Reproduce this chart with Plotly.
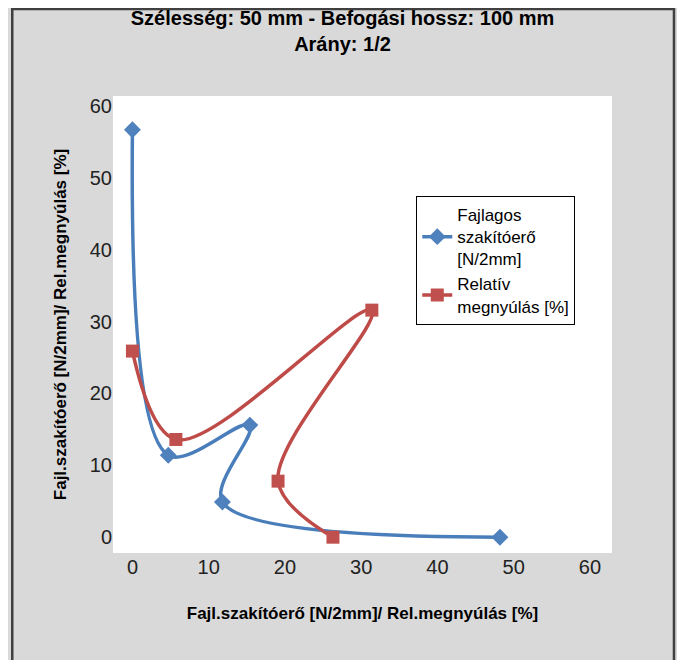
import plotly.graph_objects as go

blue_x = [0, 4.7, 15.4, 11.8, 48.2]
blue_y = [56.7, 11.4, 15.6, 4.9, 0]
red_x = [0, 5.7, 31.4, 19.1, 26.3]
red_y = [25.9, 13.6, 31.6, 7.8, 0]
ticks = [0, 10, 20, 30, 40, 50, 60]

W, H = 685, 660
ml, mr, mt, mb = 105, 65, 88, 115
pw, ph = W - ml - mr, H - mt - mb

fig = go.Figure()
fig.add_trace(go.Scatter(x=blue_x, y=blue_y, mode="lines+markers", line_shape="spline",
                         line=dict(color="#4a7ebb", width=3.5),
                         marker=dict(symbol="diamond", size=13, color="#4f81bd"),
                         name="Fajlagos<br>szakítóerő<br>[N/2mm]"))
fig.add_trace(go.Scatter(x=red_x, y=red_y, mode="lines+markers", line_shape="spline",
                         line=dict(color="#be4b48", width=3.5),
                         marker=dict(symbol="square", size=13, color="#c0504d"),
                         name="Relatív<br>megnyúlás [%]"))

axis = dict(showgrid=False, zeroline=False, showline=False, tickvals=ticks,
            tickfont=dict(size=20, color="#222"), ticks="")
fig.update_layout(
    autosize=True, margin=dict(l=ml, r=mr, t=mt, b=mb),
    paper_bgcolor="#d9d9d9", plot_bgcolor="white",
    font=dict(family="Liberation Sans, Arial", color="black"),
    title=dict(text="<b>Szélesség: 50 mm - Befogási hossz: 100 mm<br>Arány: 1/2</b>",
               x=0.5, xanchor="center", y=0.975, yanchor="top", font=dict(size=20)),
    xaxis=dict(axis, range=[-2.55, 62.9],
               title=dict(text="<b>Fajl.szakítóerő [N/2mm]/ Rel.megnyúlás [%]</b>",
                          font=dict(size=17), standoff=30)),
    yaxis=dict(axis, range=[-2.2, 61.4],
               title=dict(text="<b>Fajl.szakítóerő [N/2mm]/ Rel.megnyúlás [%]</b>",
                          font=dict(size=17), standoff=18)),
    legend=dict(x=(418 - ml) / pw, y=1 - (188 - mt) / ph, xanchor="left", yanchor="top",
                bgcolor="white", bordercolor="black", borderwidth=1,
                font=dict(size=17), tracegroupgap=12),
    shapes=[dict(type="rect", xref="paper", yref="paper",
                 x0=-ml / pw + 0.002, x1=1 + mr / pw - 0.002,
                 y0=-mb / ph + 0.002, y1=1 + mt / ph - 0.002,
                 line=dict(color="#404040", width=2.5))],
)
fig.write_html("out.html", default_width="100%", default_height="100vh",
               config={"responsive": True})
